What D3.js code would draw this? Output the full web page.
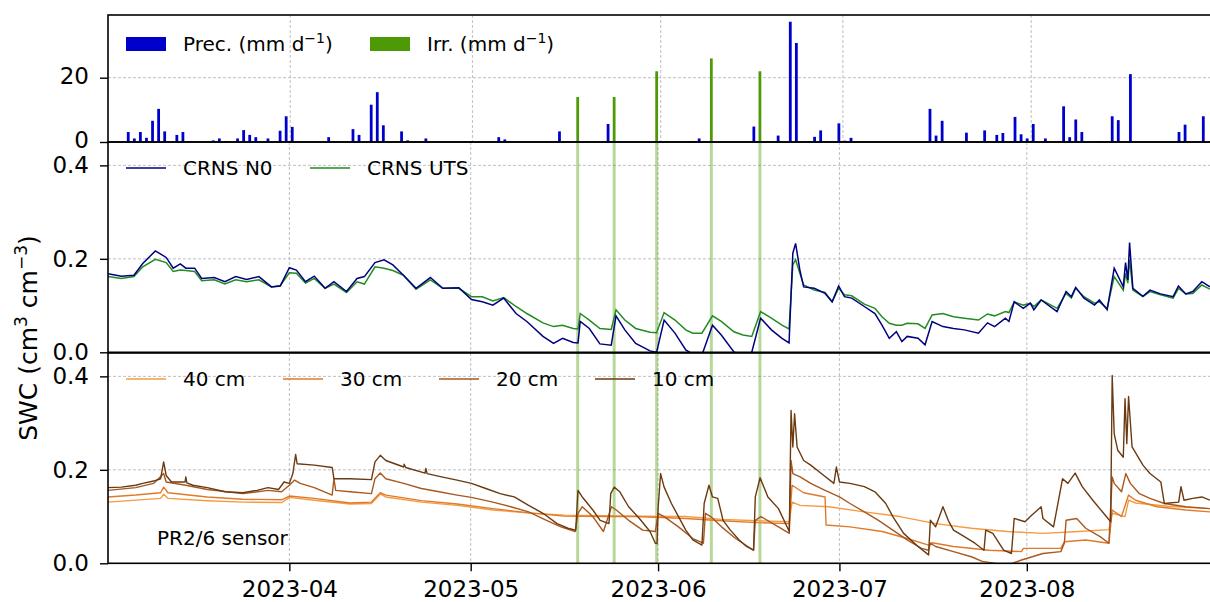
<!DOCTYPE html>
<html>
<head>
<meta charset="utf-8">
<title>SWC</title>
<script src="https://cdn.jsdelivr.net/npm/d3@7"></script>
<style>
  body { margin: 0; background: #fff; }
  svg text { font-family: "DejaVu Sans", sans-serif; fill: #000; }
</style>
</head>
<body>
<div id="chart"></div>
<script>
// ---- data ----
var monthTicks = ["2023-04", "2023-05", "2023-06", "2023-07", "2023-08"];

var precDates = ["03-05","03-06","03-07","03-08","03-09","03-10","03-11","03-13","03-14","03-19","03-20","03-21",
  "03-23","03-24","03-25","03-26","03-28","03-30","03-31","04-01","04-07","04-11","04-12","04-14","04-15","04-16",
  "04-19","04-20","04-23","05-05","05-06","05-15","05-23","06-06","06-07","06-16","06-20","06-22","06-23","06-26",
  "06-27","06-30","07-01","07-02","07-15","07-16","07-17","07-21","07-24","07-26","07-27","07-29","07-30","07-31",
  "08-01","08-03","08-06","08-07","08-08","08-09","08-12","08-14","08-15","08-17","08-25","08-26","08-29"];
var precMm = [3.1,1.1,3.1,1.3,6.6,10.3,3.3,2.2,3.1,0.5,1.1,0.3,
  1.1,3.7,2.2,1.5,1.1,3.5,8.0,4.7,1.5,4.0,2.2,11.6,15.5,5.2,
  3.3,0.5,1.1,1.5,0.8,3.3,5.6,0.3,1.1,4.8,2.0,37.4,30.8,1.6,
  3.6,5.8,0.4,1.3,10.3,2.0,6.6,2.9,3.6,2.2,2.8,7.8,2.4,1.1,
  5.6,1.1,11.1,1.5,7.0,3.1,0.3,8.0,6.8,21.1,3.1,5.4,8.0];

var irrDates = ["05-18","05-24","05-31","06-09","06-17"];
var irrMm = [14.0, 14.0, 22.0, 26.0, 22.0];

// CRNS, shared time stamps
var crnsTimes = ["03-02 00","03-04 05","03-06 07","03-07 18","03-09 20","03-11 15","03-12 19","03-13 23","03-14 21",
  "03-16 08","03-17 12","03-19 14","03-21 08","03-23 03","03-24 22","03-26 23","03-29 01","03-30 12","04-01 00",
  "04-02 04","04-03 16","04-05 03","04-06 22","04-08 09","04-10 11","04-12 05","04-13 10","04-15 04","04-16 16",
  "04-18 03","04-19 21","04-21 23","04-24 08","04-26 09","04-29 01","05-01 03","05-02 22","05-04 16","05-06 11",
  "05-08 12","05-10 07","05-12 23","05-14 17","05-16 05","05-17 23","05-18 18","05-19 03","05-20 15","05-22 09",
  "05-24 06","05-25 01","05-26 12","05-28 07","05-30 16","05-31 18","06-02 00","06-03 19","06-05 14","06-06 18",
  "06-08 06","06-10 00","06-11 11","06-13 13","06-15 01","06-16 12","06-17 23","06-19 18","06-21 12","06-22 16",
  "06-23 07","06-23 18","06-24 11","06-25 02","06-26 20","06-28 15","06-29 19","06-30 21","07-01 20","07-03 01",
  "07-05 03","07-06 21","07-08 01","07-09 06","07-10 10","07-11 08","07-12 05","07-14 00","07-15 04","07-16 08",
  "07-18 03","07-19 21","07-21 16","07-24 00","07-25 12","07-26 16","07-28 11","07-29 01","07-29 22","07-31 10",
  "08-01 14","08-02 04","08-03 09","08-06 00","08-07 12","08-08 09","08-09 02","08-10 11","08-12 05","08-13 00",
  "08-14 07","08-15 11","08-16 23","08-17 08","08-17 17","08-18 00","08-18 13","08-20 05","08-21 09","08-23 03",
  "08-25 05","08-26 02","08-27 07","08-28 11","08-29 23","08-31 07"];
var crnsN0 = [0.168,0.163,0.165,0.190,0.217,0.203,0.180,0.189,0.180,
  0.180,0.158,0.160,0.151,0.162,0.156,0.162,0.140,0.142,0.181,
  0.176,0.151,0.163,0.137,0.151,0.130,0.158,0.162,0.192,0.198,
  0.187,0.165,0.137,0.160,0.137,0.138,0.113,0.108,0.101,0.116,
  0.083,0.066,0.034,0.019,0.030,0.021,0.020,0.066,0.051,0.018,
  0.015,0.078,0.048,0.019,0.003,0.000,0.069,0.041,0.005,-0.004,
  -0.006,0.058,0.037,0.001,-0.009,0.000,0.073,0.048,0.030,0.020,
  0.212,0.233,0.176,0.140,0.137,0.126,0.108,0.142,0.119,0.116,
  0.098,0.083,0.058,0.030,0.044,0.023,0.034,0.030,0.016,0.066,
  0.055,0.051,0.048,0.041,0.063,0.055,0.073,0.066,0.108,0.094,
  0.105,0.091,0.112,0.087,0.130,0.119,0.139,0.116,0.101,0.112,
  0.091,0.180,0.140,0.192,0.155,0.235,0.137,0.120,0.133,0.125,
  0.119,0.142,0.125,0.130,0.151,0.140];
var crnsUTS = [0.162,0.158,0.162,0.183,0.199,0.192,0.173,0.176,0.175,
  0.173,0.153,0.155,0.146,0.155,0.151,0.155,0.140,0.143,0.170,
  0.169,0.148,0.158,0.137,0.146,0.128,0.151,0.146,0.183,0.180,
  0.175,0.165,0.135,0.155,0.137,0.137,0.119,0.119,0.110,0.117,
  0.098,0.083,0.063,0.055,0.058,0.051,0.050,0.083,0.069,0.051,
  0.049,0.091,0.069,0.051,0.043,0.042,0.085,0.069,0.048,0.041,
  0.041,0.078,0.066,0.044,0.037,0.034,0.087,0.073,0.058,0.050,
  0.187,0.198,0.169,0.144,0.133,0.128,0.108,0.137,0.123,0.121,
  0.103,0.094,0.076,0.062,0.058,0.058,0.062,0.061,0.051,0.080,
  0.083,0.076,0.073,0.069,0.082,0.078,0.087,0.085,0.108,0.101,
  0.105,0.098,0.112,0.094,0.126,0.116,0.137,0.119,0.105,0.108,
  0.094,0.162,0.133,0.169,0.148,0.198,0.133,0.119,0.130,0.123,
  0.116,0.137,0.125,0.126,0.144,0.135];

// PR2/6 profile probe, [time, SWC]
var swc40 = [["03-02 00",0.131],["03-10 17",0.139],["03-11 05",0.148],["03-11 22",0.139],["03-18 10",0.134],
  ["03-24 07",0.131],["03-30 19",0.130],["04-01 00",0.141],["04-05 03",0.135],["04-11 01",0.127],["04-14 14",0.128],
  ["04-16 01",0.148],["04-16 23",0.142],["04-22 21",0.131],["04-28 18",0.124],["05-04 16",0.114],["05-10 14",0.108],
  ["05-16 12",0.103],["05-22 10",0.102],["05-28 07",0.101],["06-05 14",0.100],["06-11 12",0.094],["06-17 09",0.091],
  ["06-22 17",0.089],["06-23 04",0.131],["06-24 12",0.124],["06-29 05",0.121],["07-05 03",0.110],["07-11 00",0.100],
  ["07-16 22",0.085],["07-22 20",0.075],["07-28 18",0.068],["08-03 16",0.064],["08-09 14",0.068],["08-14 14",0.072],
  ["08-15 03",0.107],["08-17 06",0.100],["08-17 20",0.135],["08-19 00",0.129],["08-24 08",0.122],["08-31 07",0.117]];
var swc30 = [["03-02 00",0.142],["03-06 14",0.146],["03-10 17",0.151],["03-11 05",0.163],["03-11 22",0.151],
  ["03-18 10",0.142],["03-24 07",0.137],["03-30 19",0.136],["04-01 00",0.144],["04-05 03",0.139],["04-11 01",0.129],
  ["04-14 14",0.131],["04-16 01",0.151],["04-16 23",0.146],["04-22 21",0.134],["04-28 18",0.127],["05-04 16",0.117],
  ["05-10 14",0.108],["05-16 12",0.101],["05-22 10",0.100],["05-28 07",0.100],["06-05 14",0.096],["06-11 12",0.091],
  ["06-17 09",0.087],["06-22 17",0.085],["06-23 04",0.167],["06-25 02",0.151],["06-28 15",0.142],["06-28 19",0.082],
  ["07-02 18",0.078],["07-08 02",0.068],["07-12 05",0.053],["07-15 18",0.039],["07-16 08",0.044],["07-19 21",0.036],
  ["07-25 19",0.028],["07-31 03",0.025],["07-31 10",0.032],["08-06 15",0.032],["08-07 05",0.046],["08-10 18",0.050],
  ["08-14 14",0.043],["08-15 03",0.114],["08-16 16",0.100],["08-17 20",0.146],["08-19 00",0.135],["08-22 13",0.121],
  ["08-27 07",0.114],["08-31 07",0.110]];
var swc20 = [["03-02 00",0.156],["03-06 14",0.162],["03-09 13",0.171],["03-11 05",0.192],["03-11 15",0.174],
  ["03-14 21",0.167],["03-18 10",0.158],["03-24 07",0.149],["03-28 11",0.156],["03-30 17",0.153],["04-01 00",0.167],
  ["04-01 21",0.178],["04-02 19",0.171],["04-05 03",0.162],["04-08 02",0.146],["04-08 09",0.181],["04-08 16",0.156],
  ["04-11 01",0.153],["04-14 14",0.149],["04-15 04",0.181],["04-16 01",0.193],["04-16 23",0.181],["04-19 22",0.171],
  ["04-22 20",0.160],["04-25 19",0.153],["04-28 18",0.146],["05-01 03",0.141],["05-04 16",0.131],["05-07 15",0.121],
  ["05-10 14",0.110],["05-13 13",0.092],["05-15 22",0.078],["05-18 07",0.068],["05-18 18",0.107],["05-19 11",0.121],
  ["05-21 05",0.100],["05-22 23",0.068],["05-24 07",0.121],["05-25 02",0.114],["05-27 03",0.092],["05-29 11",0.071],
  ["05-31 13",0.068],["06-01 00",0.107],["06-02 00",0.100],["06-04 09",0.078],["06-06 18",0.053],["06-08 12",0.043],
  ["06-08 20",0.107],["06-09 17",0.100],["06-11 12",0.078],["06-13 20",0.053],["06-16 19",0.028],["06-17 02",0.092],
  ["06-18 00",0.100],["06-20 22",0.078],["06-22 17",0.064],["06-23 00",0.220],["06-23 07",0.192],["06-24 12",0.185],
  ["06-26 06",0.171],["06-28 15",0.156],["07-01 00",0.142],["07-02 18",0.128],["07-05 03",0.110],["07-07 11",0.092],
  ["07-09 20",0.071],["07-12 05",0.050],["07-14 14",0.032],["07-15 18",0.028],["07-16 01",0.043],["07-16 22",0.036],
  ["07-19 21",0.025],["07-22 20",0.014],["07-24 15",0.004],["07-28 18",-0.004],["07-31 03",0.007],["08-03 16",0.021],
  ["08-06 15",0.025],["08-07 05",0.043],["08-07 12",0.092],["08-09 06",0.096],["08-10 18",0.075],["08-13 03",0.057],
  ["08-14 14",0.043],["08-15 03",0.185],["08-15 11",0.171],["08-16 16",0.153],["08-17 09",0.192],["08-18 03",0.171],
  ["08-19 15",0.149],["08-21 09",0.139],["08-23 18",0.128],["08-27 07",0.121],["08-31 07",0.117]];
var swc10 = [["03-02 00",0.162],["03-04 05",0.163],["03-06 14",0.167],["03-07 18",0.171],["03-09 13",0.176],
  ["03-10 17",0.181],["03-11 05",0.217],["03-11 15",0.188],["03-12 12",0.174],["03-14 18",0.174],["03-14 21",0.185],
  ["03-15 01",0.172],["03-16 01",0.167],["03-18 10",0.162],["03-21 09",0.153],["03-24 07",0.151],["03-26 16",0.156],
  ["03-28 11",0.162],["03-30 05",0.158],["03-31 03",0.174],["04-01 00",0.171],["04-01 14",0.192],["04-02 01",0.233],
  ["04-02 07",0.213],["04-05 03",0.210],["04-08 02",0.205],["04-08 09",0.181],["04-11 01",0.181],["04-14 14",0.179],
  ["04-15 04",0.217],["04-16 01",0.231],["04-16 23",0.220],["04-19 22",0.206],["04-20 00",0.212],["04-20 06",0.205],
  ["04-23 11",0.193],["04-23 14",0.203],["04-23 19",0.192],["04-25 19",0.186],["04-28 18",0.178],["05-01 03",0.171],
  ["05-03 12",0.160],["05-05 21",0.149],["05-08 05",0.142],["05-10 14",0.124],["05-12 23",0.107],["05-15 07",0.085],
  ["05-17 02",0.075],["05-18 09",0.071],["05-18 18",0.156],["05-19 11",0.142],["05-21 05",0.114],["05-22 10",0.092],
  ["05-23 21",0.085],["05-24 04",0.149],["05-24 18",0.163],["05-25 16",0.153],["05-27 03",0.121],["05-28 22",0.096],
  ["05-30 16",0.068],["05-31 13",0.043],["05-31 20",0.042],["06-01 00",0.117],["06-01 10",0.192],["06-02 00",0.163],
  ["06-03 05",0.128],["06-04 09",0.100],["06-05 14",0.071],["06-06 18",0.050],["06-08 06",0.039],["06-08 15",0.128],
  ["06-09 10",0.167],["06-10 00",0.142],["06-10 21",0.139],["06-11 18",0.092],["06-12 23",0.071],["06-14 10",0.050],
  ["06-15 15",0.036],["06-16 19",0.028],["06-17 02",0.142],["06-17 21",0.183],["06-19 04",0.142],["06-20 22",0.117],
  ["06-22 17",0.068],["06-23 00",0.327],["06-23 07",0.249],["06-23 14",0.320],["06-24 00",0.249],["06-25 02",0.220],
  ["06-26 06",0.210],["06-28 00",0.192],["06-30 02",0.171],["06-30 12",0.206],["07-01 00",0.174],["07-02 18",0.171],
  ["07-05 03",0.164],["07-06 21",0.153],["07-08 16",0.128],["07-09 20",0.100],["07-11 15",0.064],["07-14 00",0.036],
  ["07-15 18",0.018],["07-16 01",0.092],["07-16 22",0.078],["07-18 03",0.121],["07-19 00",0.092],["07-19 21",0.071],
  ["07-21 16",0.057],["07-23 10",0.043],["07-24 22",0.028],["07-25 05",0.071],["07-26 09",0.064],["07-28 04",0.028],
  ["07-29 11",0.021],["07-29 22",0.096],["07-31 17",0.089],["08-01 14",0.100],["08-03 09",0.121],["08-03 16",0.096],
  ["08-05 10",0.078],["08-06 22",0.181],["08-07 19",0.171],["08-09 00",0.193],["08-10 04",0.164],["08-11 22",0.135],
  ["08-13 17",0.107],["08-14 21",0.089],["08-15 03",0.402],["08-15 11",0.277],["08-16 01",0.242],["08-16 23",0.227],
  ["08-17 06",0.352],["08-17 13",0.256],["08-17 20",0.357],["08-18 10",0.249],["08-20 05",0.210],["08-21 09",0.192],
  ["08-23 04",0.174],["08-23 18",0.128],["08-26 03",0.131],["08-26 12",0.164],["08-27 00",0.135],["08-28 11",0.139],
  ["08-29 23",0.142],["08-31 07",0.135]];

// ---- layout ----
var W = 1210, H = 602;
var left = 108;
var parseDay = d3.timeParse("%Y-%m-%d");
var parseHour = d3.timeParse("%Y-%m-%d %H");
var parseMonth = d3.timeParse("%Y-%m");
function day(s) { return parseDay("2023-" + s); }
function hr(s) { return parseHour("2023-" + s); }

var t0 = parseDay("2023-03-02"), t1 = parseDay("2023-09-01");
var x = d3.scaleTime().domain([t0, t1]).range([left, 1214.2]);
// the bar panel sits on a slightly wider time axis
var xTop = d3.scaleTime().domain([t0, t1]).range([left, 1219.5]);

var pTop = {y0: 15, y1: 142}, pMid = {y0: 142, y1: 352.3}, pBot = {y0: 353, y1: 563.3};
var yTop = d3.scaleLinear().domain([0, 39.5]).range([pTop.y1, pTop.y0]);
var yMid = d3.scaleLinear().domain([0, 0.45]).range([pMid.y1, pMid.y0]);
var yBot = d3.scaleLinear().domain([0, 0.45]).range([pBot.y1, pBot.y0]);

var col = {
  prec: "#0000cd", irr: "#4e9a06", n0: "#000080", uts: "#228b22",
  c40: "#f59b3f", c30: "#e07a2b", c20: "#a9581f", c10: "#6b3a11"
};

var svg = d3.select("#chart").append("svg")
    .attr("width", W)
    .attr("height", H)
    .style("background", "#fff");

var defs = svg.append("defs");
[["clipMid", pMid], ["clipBot", pBot]].forEach(function (c) {
  defs.append("clipPath").attr("id", c[0]).append("rect")
      .attr("x", left).attr("y", c[1].y0)
      .attr("width", W - left).attr("height", c[1].y1 - c[1].y0);
});

// ---- grids ----
function grid(xs, ys, yTicks, p) {
  var g = svg.append("g")
      .attr("stroke", "#b0b0b0")
      .attr("stroke-width", 0.8)
      .attr("stroke-dasharray", "3,2");
  g.selectAll(null).data(monthTicks.map(parseMonth)).join("line")
      .attr("x1", function (d) { return xs(d); })
      .attr("x2", function (d) { return xs(d); })
      .attr("y1", p.y0).attr("y2", p.y1);
  g.selectAll(null).data(yTicks).join("line")
      .attr("x1", left).attr("x2", W)
      .attr("y1", function (d) { return ys(d); })
      .attr("y2", function (d) { return ys(d); });
}
grid(xTop, yTop, [20], pTop);
grid(x, yMid, [0.2, 0.4], pMid);
grid(x, yBot, [0.2, 0.4], pBot);

// ---- top panel: bars ----
function barX(s) { return xTop(d3.timeHour.offset(day(s), 8)); }
var barW = xTop(d3.timeHour.offset(t0, 11)) - xTop(t0);

svg.append("g").selectAll("rect").data(d3.zip(precDates, precMm)).join("rect")
    .attr("x", function (d) { return barX(d[0]) - barW / 2; })
    .attr("width", barW)
    .attr("y", function (d) { return yTop(d[1]); })
    .attr("height", function (d) { return yTop(0) - yTop(d[1]); })
    .attr("fill", col.prec);

svg.append("g").selectAll("rect").data(d3.zip(irrDates, irrMm)).join("rect")
    .attr("x", function (d) { return barX(d[0]) - barW / 2; })
    .attr("width", barW)
    .attr("y", function (d) { return yTop(d[1]); })
    .attr("height", function (d) { return yTop(0) - yTop(d[1]); })
    .attr("fill", col.irr);

// irrigation markers through the two lower panels
svg.append("g").selectAll("line").data(irrDates).join("line")
    .attr("x1", barX).attr("x2", barX)
    .attr("y1", pMid.y0).attr("y2", pBot.y1)
    .attr("stroke", col.irr)
    .attr("stroke-opacity", 0.4)
    .attr("stroke-width", 3);

// ---- middle panel: CRNS ----
var crnsT = crnsTimes.map(hr);
var lineMid = d3.line()
    .x(function (d) { return x(d[0]); })
    .y(function (d) { return yMid(d[1]); });
var gMid = svg.append("g").attr("clip-path", "url(#clipMid)");
gMid.append("path").datum(d3.zip(crnsT, crnsUTS))
    .attr("d", lineMid).attr("fill", "none")
    .attr("stroke", col.uts).attr("stroke-width", 1.5);
gMid.append("path").datum(d3.zip(crnsT, crnsN0))
    .attr("d", lineMid).attr("fill", "none")
    .attr("stroke", col.n0).attr("stroke-width", 1.5);

// ---- bottom panel: PR2/6 ----
var lineBot = d3.line()
    .x(function (d) { return x(hr(d[0])); })
    .y(function (d) { return yBot(d[1]); });
var gBot = svg.append("g").attr("clip-path", "url(#clipBot)");
[[swc40, col.c40], [swc30, col.c30], [swc20, col.c20], [swc10, col.c10]].forEach(function (s) {
  gBot.append("path").datum(s[0])
      .attr("d", lineBot).attr("fill", "none")
      .attr("stroke", s[1]).attr("stroke-width", 1.4)
      .attr("stroke-linejoin", "round");
});

// ---- frames ----
[pTop, pMid, pBot].forEach(function (p) {
  svg.append("rect")
      .attr("x", left).attr("y", p.y0)
      .attr("width", 1214.2 - left).attr("height", p.y1 - p.y0)
      .attr("fill", "none").attr("stroke", "#000").attr("stroke-width", 1.6);
});

// ---- axes ----
function styleAxis(g) {
  g.select(".domain").remove();
  g.selectAll(".tick line").attr("stroke", "#000").attr("stroke-width", 1.4);
  g.selectAll(".tick text").attr("font-size", 23).attr("font-family", "DejaVu Sans").attr("fill", "#000");
}
svg.append("g").attr("transform", "translate(" + left + ",0)")
    .call(d3.axisLeft(yTop).tickValues([0, 20]).tickSize(8).tickPadding(11))
    .call(styleAxis)
    .selectAll(".tick text").attr("dy", "0.25em");
svg.append("g").attr("transform", "translate(" + left + ",0)")
    .call(d3.axisLeft(yMid).tickValues([0, 0.2, 0.4]).tickFormat(d3.format(".1f")).tickSize(8).tickPadding(11))
    .call(styleAxis);
svg.append("g").attr("transform", "translate(" + left + ",0)")
    .call(d3.axisLeft(yBot).tickValues([0, 0.2, 0.4]).tickFormat(d3.format(".1f")).tickSize(8).tickPadding(11))
    .call(styleAxis);
svg.append("g").attr("transform", "translate(0," + pBot.y1 + ")")
    .call(d3.axisBottom(x).tickValues(monthTicks.map(parseMonth)).tickFormat(d3.timeFormat("%Y-%m"))
      .tickSize(8).tickPadding(9))
    .call(styleAxis);

// y label
var yl = svg.append("text")
    .attr("transform", "translate(37,338) rotate(-90)")
    .attr("text-anchor", "middle")
    .attr("font-size", 25);
yl.append("tspan").text("SWC (cm");
yl.append("tspan").attr("font-size", 17).attr("dy", -10).text("3");
yl.append("tspan").attr("dy", 10).text(" cm");
yl.append("tspan").attr("font-size", 17).attr("dy", -10).text("\u22123");
yl.append("tspan").attr("dy", 10).text(")");

// ---- legends ----
function unitLabel(sel, name) {
  var t = sel.append("text").attr("font-size", 20).attr("dy", "0.35em");
  t.append("tspan").text(name + " (mm d");
  t.append("tspan").attr("font-size", 14).attr("dy", -8).text("\u22121");
  t.append("tspan").attr("dy", 8).text(")");
  return t;
}
var lgTop = [["Prec.", col.prec, 126], ["Irr.", col.irr, 370]];
lgTop.forEach(function (d) {
  var g = svg.append("g").attr("transform", "translate(" + d[2] + ",44)");
  g.append("rect").attr("x", 0).attr("y", -7).attr("width", 40).attr("height", 14).attr("fill", d[1]);
  unitLabel(g, d[0]).attr("x", 57);
});

function lineLegend(items, y) {
  items.forEach(function (d) {
    var g = svg.append("g").attr("transform", "translate(" + d[2] + "," + y + ")");
    g.append("line").attr("x1", 0).attr("x2", 40).attr("stroke", d[1]).attr("stroke-width", 1.5);
    g.append("text").attr("x", 57).attr("dy", "0.35em").attr("font-size", 20).text(d[0]);
  });
}
lineLegend([["CRNS N0", col.n0, 126], ["CRNS UTS", col.uts, 310]], 168);
lineLegend([["40 cm", col.c40, 126], ["30 cm", col.c30, 283], ["20 cm", col.c20, 439], ["10 cm", col.c10, 595]], 379);

svg.append("text").attr("x", 157).attr("y", 545).attr("font-size", 20).text("PR2/6 sensor");
</script>
</body>
</html>
